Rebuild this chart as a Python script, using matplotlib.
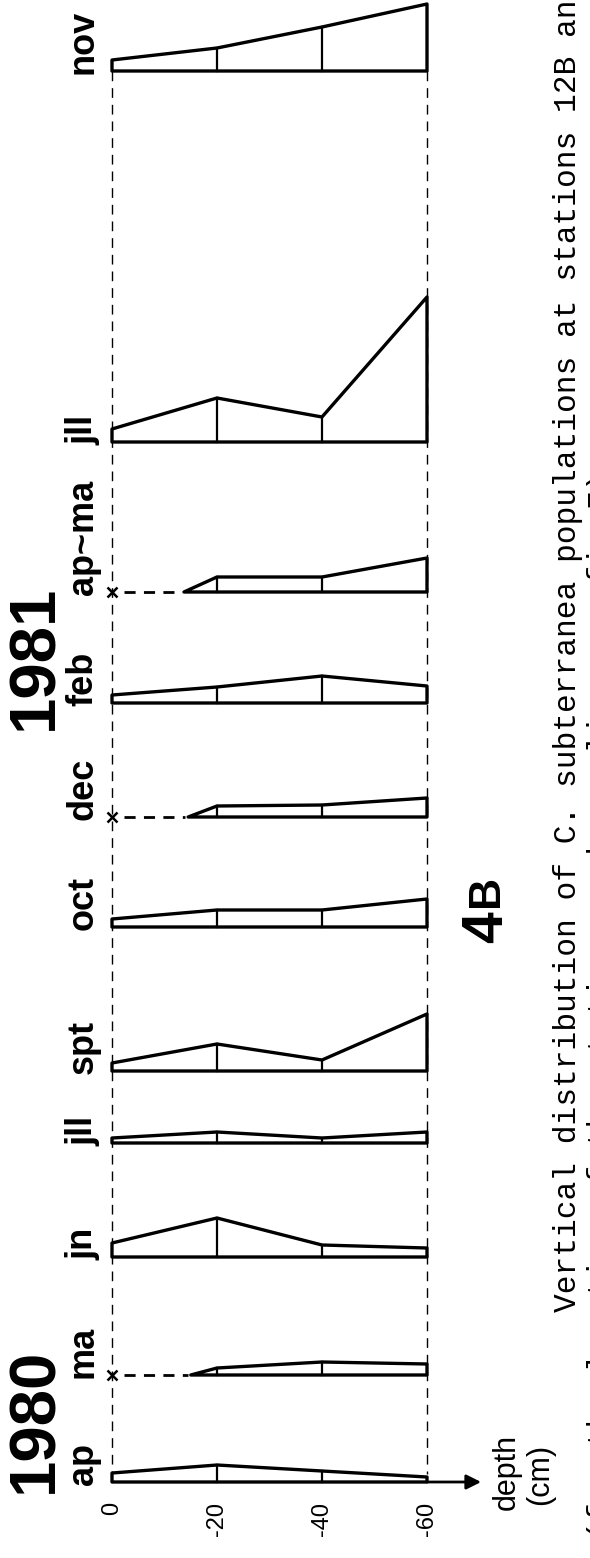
import matplotlib
matplotlib.use("Agg")
import matplotlib.pyplot as plt

# ---------------------------------------------------
# data : relative density at 0, -20, -40, -60 cm
# None = nothing found at that level (marked with x)
# ---------------------------------------------------

months = ["ap", "ma", "jn", "jll", "spt", "oct", "dec", "feb", "ap~ma", "jll", "nov"]
years = ["1980", "1981"]
depths = [0, 20, 40, 60]
depth_labels = ["0", "-20", "-40", "-60"]

ap_80 = [9, 17, 11, 5]
ma_80 = [None, 7, 13, 11]
jn_80 = [14, 39, 12, 9]
jll_80 = [5, 11, 5, 11]
spt_80 = [8, 27, 11, 57]
oct_80 = [8, 17, 17, 28]
dec_80 = [None, 11, 12, 19]
feb_81 = [8, 16, 27, 17]
apma_81 = [None, 15, 15, 34]
jll_81 = [13, 44, 25, 145]
nov_81 = [11, 23, 44, 67]

# first depth where animals were found (cm)
first_found = [0, 15, 0, 0, 0, 0, 14.5, 0, 13.7, 0, 0]

profiles = [ap_80, ma_80, jn_80, jll_80, spt_80, oct_80,
            dec_80, feb_81, apma_81, jll_81, nov_81]

caption_1 = "Vertical distribution of C. subterranea populations at stations 12B an"
caption_2 = "(for the location of the stations and sampling see fig 7)"

# ---------------------------------------------------
# layout (pixels from top of the page)
# ---------------------------------------------------

baseline = [1482, 1375, 1257, 1143, 1071, 927, 817, 703, 592, 442, 71]
year_start = [1493, 730]

px_per_cm = 5.25
x0 = 112

plt.rcParams["font.family"] = ["Liberation Sans", "DejaVu Sans"]

fig = plt.figure(figsize=(5.9, 15.58), dpi=100)
ax = fig.add_axes([0, 0, 1, 1])
ax.set_xlim(-x0 / px_per_cm, (590 - x0) / px_per_cm)
ax.set_ylim(1558, 0)
ax.axis("off")

# dashed guides at 0 and -60
ax.vlines([depths[0], depths[-1]], baseline[-1], baseline[0] - 8,
          colors="black", lw=1.0, linestyles=(0, (7, 5)), zorder=1)

# ---------------------------------------------------
# profiles
# ---------------------------------------------------

for i, vals in enumerate(profiles):
    b = baseline[i]
    if vals[0] is None:
        xs = [first_found[i]] + depths[1:]
        tops = [0] + vals[1:]
    else:
        xs = depths
        tops = vals

    px = [xs[0]] + xs + [depths[-1]]
    py = [b] + [b - t for t in tops] + [b]
    ax.fill(px, py, facecolor="white", edgecolor="black", lw=2.4,
            joinstyle="round", zorder=3)

    for d, t in zip(depths[1:3], vals[1:3]):
        ax.plot([d, d], [b, b - t], color="black", lw=1.6, zorder=4)

    if vals[0] is None:
        ax.plot(depths[0], b, marker="x", ms=7, mew=1.8, color="black", zorder=4)
        ax.plot([2.2, first_found[i] - 0.6], [b, b], color="black", lw=2.0,
                ls=(0, (4, 3)), zorder=4)

    ax.text(-5.5, b + 3, months[i], rotation=90, rotation_mode="anchor",
            ha="left", va="center", fontsize=26, fontweight="bold")

# depth axis arrow
ax.annotate("", xy=(70.3, baseline[0]), xytext=(depths[-1], baseline[0]),
            arrowprops=dict(arrowstyle="-|>", color="black", lw=2,
                            mutation_scale=22, shrinkA=0, shrinkB=0))

for d, lab in zip(depths, depth_labels):
    ax.text(d, 1502, lab, rotation=90, rotation_mode="anchor",
            ha="right", va="center", fontsize=17)

ax.text(75.2, 1510, "depth", rotation=90, rotation_mode="anchor",
        ha="left", va="center", fontsize=22)
ax.text(81.5, 1505, "(cm)", rotation=90, rotation_mode="anchor",
        ha="left", va="center", fontsize=22)

# ---------------------------------------------------
# years, panel mark, caption
# ---------------------------------------------------

for y, s in zip(year_start, years):
    ax.text(-14.6, y, s, rotation=90, rotation_mode="anchor",
            ha="left", va="center", fontsize=47, fontweight="bold")

ax.text(71.4, 943, "4", rotation=90, rotation_mode="anchor",
        ha="left", va="center", fontsize=41, fontweight="bold")
ax.text(71.4, 907, "B", rotation=90, rotation_mode="anchor",
        ha="left", va="center", fontsize=32, fontweight="bold")

ax.text(86.9, 1312, caption_1, rotation=90, rotation_mode="anchor",
        ha="left", va="center", fontsize=22.5, family="Liberation Mono")
ax.text(93.4, 1540, caption_2, rotation=90, rotation_mode="anchor",
        ha="left", va="center", fontsize=22.5, family="Liberation Mono")

fig.savefig("out.png", dpi=100)
